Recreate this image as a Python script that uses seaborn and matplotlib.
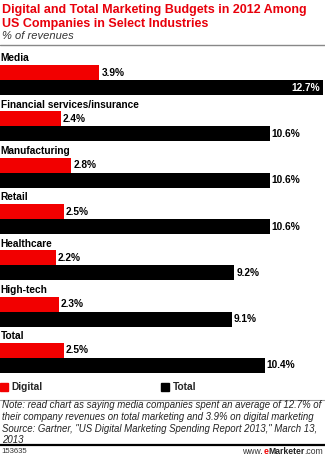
import matplotlib
matplotlib.use("Agg")
import matplotlib.pyplot as plt
from matplotlib.lines import Line2D
import seaborn as sns
import pandas as pd

# Data
industries = ["Media", "Financial services/insurance", "Manufacturing",
              "Retail", "Healthcare", "High-tech", "Total"]
digital = [3.9, 2.4, 2.8, 2.5, 2.2, 2.3, 2.5]
total = [12.7, 10.6, 10.6, 10.6, 9.2, 9.1, 10.4]
series = ["Digital", "Total"]
colors = {"Digital": "#f20000", "Total": "#000000"}

title = "Digital and Total Marketing Budgets in 2012 Among\nUS Companies in Select Industries"
subtitle = "% of revenues"
note = ("Note: read chart as saying media companies spent an average of 12.7% of\n"
        "their company revenues on total marketing and 3.9% on digital marketing\n"
        "Source: Gartner, \"US Digital Marketing Spending Report 2013,\" March 13,\n"
        "2013")
chart_id = "153635"

df = pd.DataFrame({
    "industry": industries * 2,
    "series": ["Digital"] * len(industries) + ["Total"] * len(industries),
    "value": digital + total,
})

sns.set_theme(style="white")
plt.rcParams["font.family"] = ["Liberation Sans", "DejaVu Sans"]

W, H = 325, 457
fig = plt.figure(figsize=(W / 100, H / 100), dpi=100)

def fy(p):
    return 1 - p / H

# axes spans pixel rows 48..375
ax = fig.add_axes([0, fy(375), 1, (375 - 48) / H])
bar_w = 0.6475
sns.barplot(data=df, y="industry", x="value", hue="series", hue_order=series,
            order=industries, palette=colors, orient="h", width=bar_w,
            dodge=True, linewidth=0, saturation=1, legend=False, ax=ax)
ax.set_xlim(0, 12.77)
ax.set_ylim(6.367, -0.691)
ax.axis("off")

half = bar_w / 4
for i, name in enumerate(industries):
    ax.text(0.03, i - 0.47, name, ha="left", va="center", fontsize=7.3,
            fontweight="bold", color="black")
    d, t = digital[i], total[i]
    ax.text(d + 0.08, i - half, f"{d:.1f}%", ha="left", va="center",
            fontsize=7.3, fontweight="bold", color="black")
    if t > 11.5:
        ax.text(t - 0.12, i + half, f"{t:.1f}%", ha="right", va="center",
                fontsize=7.3, fontweight="bold", color="white")
    else:
        ax.text(t + 0.08, i + half, f"{t:.1f}%", ha="left", va="center",
                fontsize=7.3, fontweight="bold", color="black")

# Title block
fig.text(2 / W, fy(4.5), title, ha="left", va="top", fontsize=9.0,
         fontweight="bold", color="#e8000b", linespacing=1.2)
fig.text(2 / W, fy(36), subtitle, ha="left", va="center", fontsize=8,
         style="italic", color="#333333")
fig.add_artist(Line2D([0, 1], [fy(44.5), fy(44.5)], color="#888888", lw=1))

# Legend: one entry per series, second one starting mid-width
legend_x = {"Digital": 0 / W, "Total": 161 / W}
for s in series:
    fig.legend([plt.Rectangle((0, 0), 1, 1, color=colors[s])], [s],
               loc="center left", bbox_to_anchor=(legend_x[s], fy(387.5)),
               frameon=False, borderaxespad=0, borderpad=0,
               handlelength=0.75, handleheight=0.9, handletextpad=0.4,
               prop={"weight": "bold", "size": 7.3})

fig.add_artist(Line2D([0, 1], [fy(399.5), fy(399.5)], color="#999999", lw=0.8))

fig.text(2 / W, fy(400), note, ha="left", va="top", fontsize=6.9,
         style="italic", color="#222222", linespacing=1.22)

fig.add_artist(Line2D([0, 1], [fy(445), fy(445)], color="black", lw=1.6))

fig.text(1 / W, fy(451.5), chart_id, ha="left", va="center", fontsize=5.6,
         color="#333333")

# www.eMarketer.com, built right to left
t_com = fig.text(323 / W, fy(456), ".com", ha="right", va="bottom",
                 fontsize=6.2, color="#333333")
t_mk = fig.text(0, 0, "Marketer", ha="right", va="bottom", fontsize=6.2,
                fontweight="bold", color="#222222")
t_e = fig.text(0, 0, "e", ha="right", va="bottom", fontsize=6.2,
               fontweight="bold", color="#f20000")
t_www = fig.text(0, 0, "www.", ha="right", va="bottom", fontsize=6.2,
                 color="#333333")
fig.canvas.draw()
r = fig.canvas.get_renderer()
prev = t_com
for t in (t_mk, t_e, t_www):
    bb = prev.get_window_extent(r)
    t.set_position((bb.x0 / fig.bbox.width, bb.y0 / fig.bbox.height))
    fig.canvas.draw()
    prev = t

fig.savefig("out.png", dpi=100)
